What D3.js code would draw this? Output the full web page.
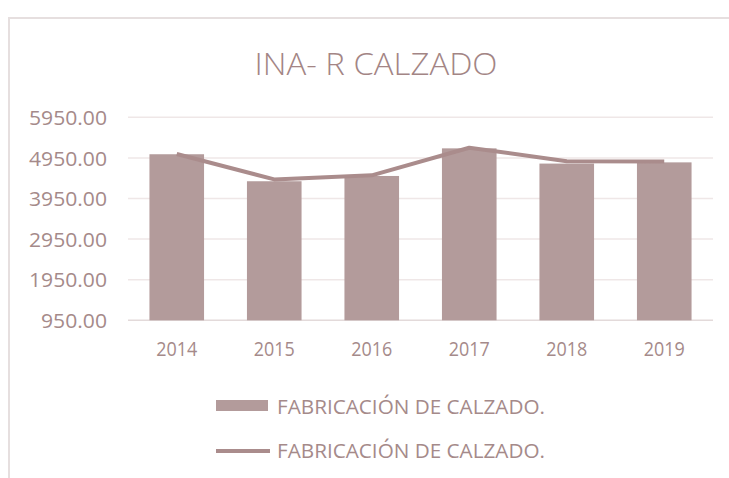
<!DOCTYPE html>
<html>
<head>
<meta charset="utf-8">
<script src="https://cdn.jsdelivr.net/npm/d3@7"></script>
<style>
  body { margin: 0; background: #fff; }
  text { font-family: "Open Sans", sans-serif; fill: #a58a8a; }
</style>
</head>
<body>
<div id="chart"></div>
<script>
const years = ['2014', '2015', '2016', '2017', '2018', '2019']
const barValues = [5040, 4375, 4505, 5185, 4810, 4840]
const lineValues = [5045, 4420, 4520, 5200, 4870, 4860]
const tickValues = [950, 1950, 2950, 3950, 4950, 5950]
const title = 'INA- R CALZADO'
const seriesName = 'FABRICACIÓN DE CALZADO.'

const width = 729
const height = 478
const margin = {left: 128, right: 16, top: 117.3, bottom: 157.7}

const barColor = '#b39b9b'
const lineColor = '#aa8c8c'

const svg = d3.select('#chart')
  .append('svg')
  .attr('width', width)
  .attr('height', height)

// chart frame (only left and top visible)
svg.append('path')
  .attr('d', `M9,${height} V18 H${width}`)
  .attr('fill', 'none')
  .attr('stroke', '#e6dfdf')
  .attr('stroke-width', 2)

svg.append('text')
  .attr('x', 376)
  .attr('y', 75)
  .attr('text-anchor', 'middle')
  .attr('font-size', 31)
  .attr('font-weight', 300)
  .attr('textLength', 243)
  .attr('lengthAdjust', 'spacingAndGlyphs')
  .style('fill', '#a38585')
  .text(title)

const x = d3.scaleBand()
  .domain(years)
  .range([margin.left, width - margin.right])
  .paddingInner(0.44)
  .paddingOuter(0.22)

const y = d3.scaleLinear()
  .domain([950, 5950])
  .range([height - margin.bottom, margin.top])

// gridlines
svg.append('g')
  .selectAll('line')
  .data(tickValues)
  .join('line')
  .attr('x1', margin.left)
  .attr('x2', width - margin.right)
  .attr('y1', d => y(d))
  .attr('y2', d => y(d))
  .attr('stroke', d => d === 950 ? '#e3dada' : '#efe7e7')
  .attr('stroke-width', 1.5)

// y axis labels
const yAxis = svg.append('g')
  .attr('transform', `translate(${margin.left},0)`)
  .call(d3.axisLeft(y).tickValues(tickValues).tickFormat(d3.format('.2f')).tickSize(0).tickPadding(21))
yAxis.select('.domain').remove()
yAxis.selectAll('text')
  .attr('font-size', 20)
  .attr('font-family', '"Open Sans", sans-serif')
  .attr('dy', '0.36em')
  .attr('textLength', d => d >= 1000 ? 78 : 66)
  .attr('lengthAdjust', 'spacingAndGlyphs')
  .style('fill', '#a58a8a')

// bars
svg.append('g')
  .selectAll('rect')
  .data(years)
  .join('rect')
  .attr('x', d => x(d))
  .attr('width', x.bandwidth())
  .attr('y', (d, i) => y(barValues[i]))
  .attr('height', (d, i) => y(950) - y(barValues[i]))
  .attr('fill', barColor)

// line
const line = d3.line()
  .x((d, i) => x(years[i]) + x.bandwidth() / 2)
  .y(d => y(d))

svg.append('path')
  .attr('d', line(lineValues))
  .attr('fill', 'none')
  .attr('stroke', lineColor)
  .attr('stroke-width', 4)
  .attr('stroke-linejoin', 'round')

// x axis labels
const xAxis = svg.append('g')
  .attr('transform', `translate(0,${y(950)})`)
  .call(d3.axisBottom(x).tickSize(0).tickPadding(22))
xAxis.select('.domain').remove()
xAxis.selectAll('text')
  .attr('font-size', 20)
  .attr('font-family', '"Open Sans", sans-serif')
  .attr('textLength', 41)
  .attr('lengthAdjust', 'spacingAndGlyphs')
  .style('fill', '#a58a8a')

// legend
const legend = svg.append('g')

legend.append('rect')
  .attr('x', 216)
  .attr('y', 400)
  .attr('width', 52)
  .attr('height', 11)
  .attr('fill', barColor)

legend.append('text')
  .attr('x', 277)
  .attr('y', 414)
  .attr('font-size', 19.5)
  .attr('textLength', 268)
  .attr('lengthAdjust', 'spacingAndGlyphs')
  .text(seriesName)

legend.append('line')
  .attr('x1', 216)
  .attr('x2', 270)
  .attr('y1', 451)
  .attr('y2', 451)
  .attr('stroke', lineColor)
  .attr('stroke-width', 4)

legend.append('text')
  .attr('x', 277)
  .attr('y', 458)
  .attr('font-size', 19.5)
  .attr('textLength', 268)
  .attr('lengthAdjust', 'spacingAndGlyphs')
  .text(seriesName)
</script>
</body>
</html>
